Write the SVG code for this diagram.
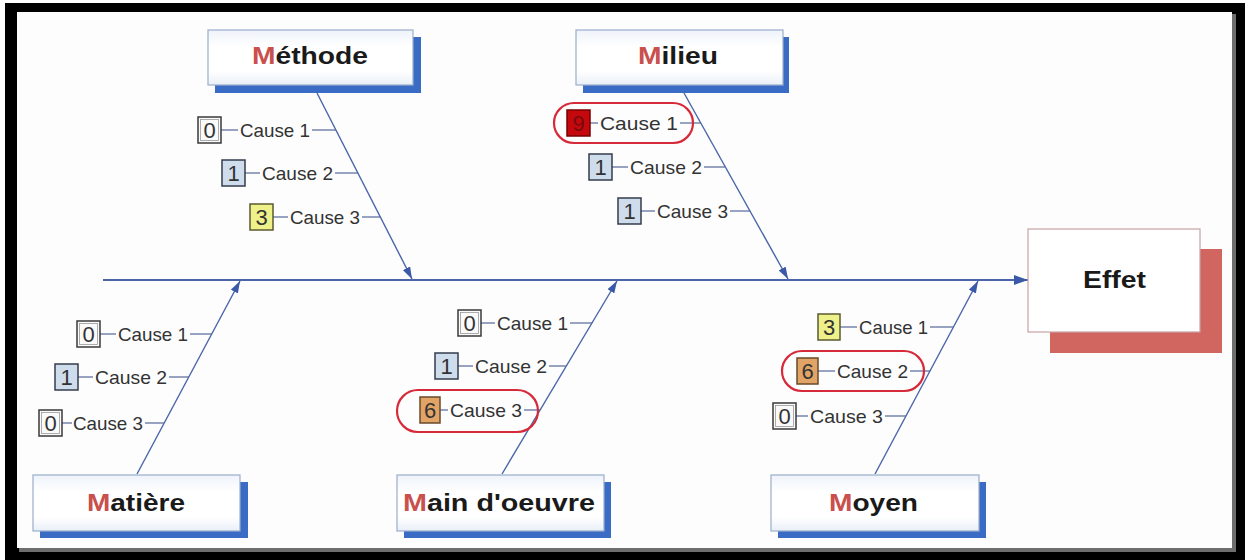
<svg xmlns="http://www.w3.org/2000/svg" width="1245" height="560" viewBox="0 0 1245 560">
  <defs>
    <style>
      .box { stroke:#9badca; stroke-width:1.2; }
      .shadow { fill:#3b6cc5; }
      .label { font-family:"Liberation Sans", Arial, sans-serif; font-weight:bold; font-size:24px; fill:#1a1a1a; }
      .initial { fill:#c9504c; }
      .cause { font-family:"Liberation Sans", Arial, sans-serif; font-size:18.5px; fill:#333333; }
      .digit { font-family:"Liberation Sans", Arial, sans-serif; font-size:22px; fill:#333333; text-anchor:middle; }
      .tick { stroke:#56689a; stroke-width:1.2; fill:none; }
      .bone { stroke:#4a66a8; stroke-width:1.4; fill:none; }
      .spine { stroke:#4a66a8; stroke-width:2; fill:none; }
      .ring { fill:none; stroke:#d62a3a; stroke-width:2.2; }
      .n0 { fill:#fafafa; stroke:#3a3a3a; stroke-width:1.5; }
      .n1 { fill:#cfdcec; stroke:#333c4c; stroke-width:1.5; }
      .n3 { fill:#eef08a; stroke:#5a5a30; stroke-width:1.5; }
      .n6 { fill:#e2a366; stroke:#6a4a2a; stroke-width:1.5; }
      .n9 { fill:#c4080e; stroke:#7a0000; stroke-width:1.5; }
      .inner { fill:none; stroke:#9a9a9a; stroke-width:0.8; }
    </style>
    <marker id="head" markerUnits="userSpaceOnUse" markerWidth="12" markerHeight="8" refX="12" refY="4" orient="auto">
      <path d="M0,0 L12,4 L0,8 Z" fill="#3a5aa8"/>
    </marker>
    <marker id="headBig" markerUnits="userSpaceOnUse" markerWidth="14" markerHeight="10" refX="14" refY="5" orient="auto">
      <path d="M0,0 L14,5 L0,10 Z" fill="#3a5aa8"/>
    </marker>
    <linearGradient id="boxFill" x1="0" y1="0" x2="0" y2="1">
      <stop offset="0" stop-color="#eef3fa"/>
      <stop offset="0.3" stop-color="#ffffff"/>
      <stop offset="0.75" stop-color="#ffffff"/>
      <stop offset="1" stop-color="#e9eff8"/>
    </linearGradient>
  </defs>

  <!-- frame -->
  <g id="frame">
    <rect x="0" y="0" width="1245" height="560" fill="#ffffff"/>
    <rect x="5" y="3" width="1240" height="557" fill="#000000"/>
    <rect x="19" y="14" width="1217" height="538" fill="#6e6e6e"/>
    <rect x="17" y="12" width="1215" height="536" fill="#fdfdfe"/>
  </g>

  <!-- fishbone connectors -->
  <g id="connectors">
    <line class="spine" x1="103" y1="280" x2="1028" y2="280" marker-end="url(#headBig)"/>
    <line class="bone" x1="317" y1="93" x2="412" y2="279" marker-end="url(#head)"/>
    <line class="bone" x1="684" y1="93" x2="788" y2="279" marker-end="url(#head)"/>
    <line class="bone" x1="137" y1="474" x2="240" y2="281" marker-end="url(#head)"/>
    <line class="bone" x1="502" y1="474" x2="617" y2="281" marker-end="url(#head)"/>
    <line class="bone" x1="875" y1="474" x2="978" y2="281" marker-end="url(#head)"/>
  </g>

  <!-- category: Méthode -->
  <g id="methode">
    <rect class="shadow" x="215" y="37" width="206" height="56"/>
    <rect class="box" x="208" y="30" width="205" height="55" fill="url(#boxFill)"/>
    <text class="label" x="252" y="64" textLength="116" lengthAdjust="spacingAndGlyphs"><tspan class="initial">M</tspan>éthode</text>
  </g>
  <g id="methode-causes">
    <g id="methode-c1">
      <line class="tick" x1="221" y1="130" x2="238" y2="130"/>
      <line class="tick" x1="312" y1="130" x2="336" y2="130"/>
      <rect class="n0" x="198" y="117" width="23" height="26"/>
      <rect class="inner" x="200.5" y="119.5" width="18" height="21"/>
      <text class="digit" x="209.5" y="138">0</text>
      <text class="cause" x="240" y="136.5" textLength="70" lengthAdjust="spacingAndGlyphs">Cause 1</text>
    </g>
    <g id="methode-c2">
      <line class="tick" x1="245" y1="173" x2="260" y2="173"/>
      <line class="tick" x1="335" y1="173" x2="358" y2="173"/>
      <rect class="n1" x="222" y="160" width="23" height="26"/>
      <text class="digit" x="233.5" y="181">1</text>
      <text class="cause" x="262" y="179.5" textLength="71" lengthAdjust="spacingAndGlyphs">Cause 2</text>
    </g>
    <g id="methode-c3">
      <line class="tick" x1="273" y1="217" x2="288" y2="217"/>
      <line class="tick" x1="362" y1="217" x2="381" y2="217"/>
      <rect class="n3" x="250" y="204" width="23" height="26"/>
      <text class="digit" x="261.5" y="225">3</text>
      <text class="cause" x="290" y="223.5" textLength="70" lengthAdjust="spacingAndGlyphs">Cause 3</text>
    </g>
  </g>

  <!-- category: Milieu -->
  <g id="milieu">
    <rect class="shadow" x="583" y="37" width="206" height="56"/>
    <rect class="box" x="576" y="30" width="207" height="55" fill="url(#boxFill)"/>
    <text class="label" x="638" y="64" textLength="80" lengthAdjust="spacingAndGlyphs"><tspan class="initial">M</tspan>ilieu</text>
  </g>
  <g id="milieu-causes">
    <g id="milieu-c1">
      <line class="tick" x1="590" y1="123" x2="598" y2="123"/>
      <line class="tick" x1="680" y1="123" x2="701" y2="123"/>
      <rect class="n9" x="567" y="110" width="23" height="26"/>
      <text class="digit" x="578.5" y="131" style="fill:#7a0a0a">9</text>
      <text class="cause" x="600" y="129.5" textLength="78" lengthAdjust="spacingAndGlyphs">Cause 1</text>
      <rect class="ring" x="554" y="103" width="139" height="40" rx="20" ry="20"/>
    </g>
    <g id="milieu-c2">
      <line class="tick" x1="612" y1="167" x2="628" y2="167"/>
      <line class="tick" x1="704" y1="167" x2="725" y2="167"/>
      <rect class="n1" x="589" y="154" width="23" height="26"/>
      <text class="digit" x="600.5" y="175">1</text>
      <text class="cause" x="630" y="173.5" textLength="72" lengthAdjust="spacingAndGlyphs">Cause 2</text>
    </g>
    <g id="milieu-c3">
      <line class="tick" x1="641" y1="211" x2="655" y2="211"/>
      <line class="tick" x1="730" y1="211" x2="750" y2="211"/>
      <rect class="n1" x="618" y="198" width="23" height="26"/>
      <text class="digit" x="629.5" y="219">1</text>
      <text class="cause" x="657" y="217.5" textLength="71" lengthAdjust="spacingAndGlyphs">Cause 3</text>
    </g>
  </g>

  <!-- category: Matière -->
  <g id="matiere">
    <rect class="shadow" x="40" y="482" width="208" height="56"/>
    <rect class="box" x="33" y="475" width="207" height="56" fill="url(#boxFill)"/>
    <text class="label" x="87" y="511" textLength="98" lengthAdjust="spacingAndGlyphs"><tspan class="initial">M</tspan>atière</text>
  </g>
  <g id="matiere-causes">
    <g id="matiere-c1">
      <line class="tick" x1="100" y1="334" x2="116" y2="334"/>
      <line class="tick" x1="190" y1="334" x2="212" y2="334"/>
      <rect class="n0" x="77" y="321" width="23" height="26"/>
      <rect class="inner" x="79.5" y="323.5" width="18" height="21"/>
      <text class="digit" x="88.5" y="342">0</text>
      <text class="cause" x="118" y="340.5" textLength="70" lengthAdjust="spacingAndGlyphs">Cause 1</text>
    </g>
    <g id="matiere-c2">
      <line class="tick" x1="78" y1="377" x2="93" y2="377"/>
      <line class="tick" x1="169" y1="377" x2="189" y2="377"/>
      <rect class="n1" x="55" y="364" width="23" height="26"/>
      <text class="digit" x="66.5" y="385">1</text>
      <text class="cause" x="95" y="383.5" textLength="72" lengthAdjust="spacingAndGlyphs">Cause 2</text>
    </g>
    <g id="matiere-c3">
      <line class="tick" x1="62" y1="423" x2="72" y2="423"/>
      <line class="tick" x1="145" y1="423" x2="164" y2="423"/>
      <rect class="n0" x="39" y="410" width="23" height="26"/>
      <rect class="inner" x="41.5" y="412.5" width="18" height="21"/>
      <text class="digit" x="50.5" y="431">0</text>
      <text class="cause" x="73" y="429.5" textLength="70" lengthAdjust="spacingAndGlyphs">Cause 3</text>
    </g>
  </g>

  <!-- category: Main d'oeuvre -->
  <g id="main-oeuvre">
    <rect class="shadow" x="404" y="482" width="207" height="56"/>
    <rect class="box" x="397" y="475" width="207" height="56" fill="url(#boxFill)"/>
    <text class="label" x="403" y="511" textLength="192" lengthAdjust="spacingAndGlyphs"><tspan class="initial">M</tspan>ain d'oeuvre</text>
  </g>
  <g id="main-oeuvre-causes">
    <g id="main-oeuvre-c1">
      <line class="tick" x1="481" y1="323" x2="495" y2="323"/>
      <line class="tick" x1="570" y1="323" x2="592" y2="323"/>
      <rect class="n0" x="458" y="310" width="23" height="26"/>
      <rect class="inner" x="460.5" y="312.5" width="18" height="21"/>
      <text class="digit" x="469.5" y="331">0</text>
      <text class="cause" x="497" y="329.5" textLength="71" lengthAdjust="spacingAndGlyphs">Cause 1</text>
    </g>
    <g id="main-oeuvre-c2">
      <line class="tick" x1="458" y1="366" x2="473" y2="366"/>
      <line class="tick" x1="549" y1="366" x2="566" y2="366"/>
      <rect class="n1" x="435" y="353" width="23" height="26"/>
      <text class="digit" x="446.5" y="374">1</text>
      <text class="cause" x="475" y="372.5" textLength="72" lengthAdjust="spacingAndGlyphs">Cause 2</text>
    </g>
    <g id="main-oeuvre-c3">
      <line class="tick" x1="440" y1="410" x2="448" y2="410"/>
      <line class="tick" x1="524" y1="410" x2="540" y2="410"/>
      <rect class="n6" x="420" y="397" width="20" height="26"/>
      <text class="digit" x="430" y="418">6</text>
      <text class="cause" x="450" y="416.5" textLength="72" lengthAdjust="spacingAndGlyphs">Cause 3</text>
      <rect class="ring" x="397" y="390" width="141" height="42" rx="21" ry="21"/>
    </g>
  </g>

  <!-- category: Moyen -->
  <g id="moyen">
    <rect class="shadow" x="778" y="482" width="208" height="56"/>
    <rect class="box" x="771" y="475" width="208" height="56" fill="url(#boxFill)"/>
    <text class="label" x="829" y="511" textLength="89" lengthAdjust="spacingAndGlyphs"><tspan class="initial">M</tspan>oyen</text>
  </g>
  <g id="moyen-causes">
    <g id="moyen-c1">
      <line class="tick" x1="840" y1="327" x2="857" y2="327"/>
      <line class="tick" x1="930" y1="327" x2="953" y2="327"/>
      <rect class="n3" x="818" y="314" width="22" height="26"/>
      <text class="digit" x="829" y="335">3</text>
      <text class="cause" x="859" y="333.5" textLength="69" lengthAdjust="spacingAndGlyphs">Cause 1</text>
    </g>
    <g id="moyen-c2">
      <line class="tick" x1="818" y1="371" x2="835" y2="371"/>
      <line class="tick" x1="910" y1="371" x2="930" y2="371"/>
      <rect class="n6" x="797" y="358" width="21" height="26"/>
      <text class="digit" x="807.5" y="379">6</text>
      <text class="cause" x="837" y="377.5" textLength="71" lengthAdjust="spacingAndGlyphs">Cause 2</text>
      <rect class="ring" x="782" y="351" width="142" height="40" rx="20" ry="20"/>
    </g>
    <g id="moyen-c3">
      <line class="tick" x1="796" y1="416" x2="808" y2="416"/>
      <line class="tick" x1="885" y1="416" x2="906" y2="416"/>
      <rect class="n0" x="773" y="403" width="23" height="26"/>
      <rect class="inner" x="775.5" y="405.5" width="18" height="21"/>
      <text class="digit" x="784.5" y="424">0</text>
      <text class="cause" x="810" y="422.5" textLength="73" lengthAdjust="spacingAndGlyphs">Cause 3</text>
    </g>
  </g>

  <!-- effect -->
  <g id="effet">
    <rect x="1050" y="249" width="172" height="104" fill="#d0665f"/>
    <rect x="1028" y="229" width="172" height="103" fill="#ffffff" stroke="#c9a2a2" stroke-width="1.2"/>
    <text class="label" x="1083" y="288" textLength="63" lengthAdjust="spacingAndGlyphs">Effet</text>
  </g>
</svg>
